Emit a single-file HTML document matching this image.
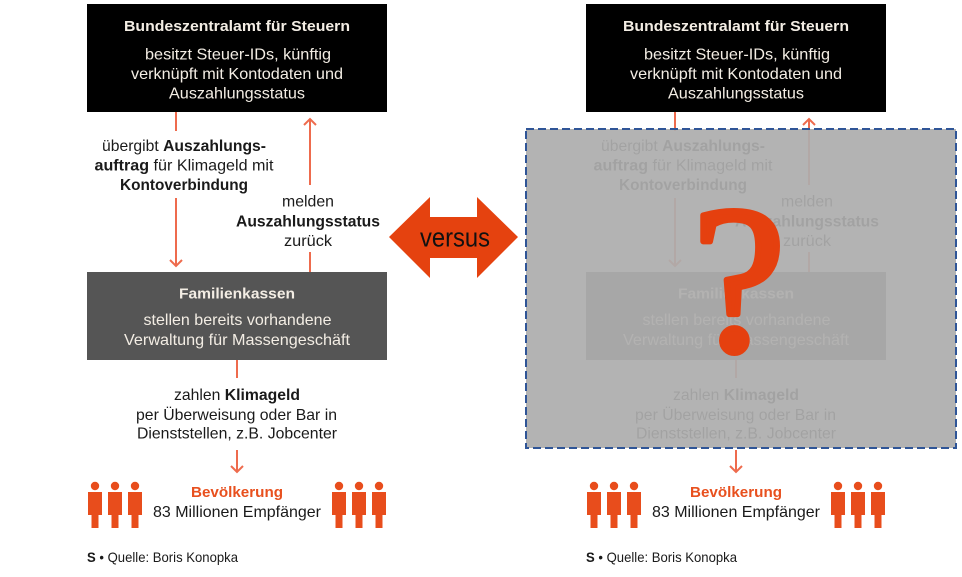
<!DOCTYPE html>
<html><head><meta charset="utf-8"><style>
html,body{margin:0;padding:0;background:#fff;}
svg{display:block;}
text{font-family:"Liberation Sans",sans-serif;}
.w{fill:#f3ede4;font-size:16px;}
.wb{fill:#f3ede4;font-size:15px;font-weight:bold;}
.t{fill:#1a1a1a;font-size:16px;}
.b{font-weight:bold;}
.ln{stroke:#ee6b4d;stroke-width:2;fill:none;}
.pp{fill:#e84d1c;}
</style></head><body>
<svg width="962" height="577" viewBox="0 0 962 577" xmlns="http://www.w3.org/2000/svg">
<rect width="962" height="577" fill="#fff"/>

<!-- LEFT -->
<g>
<rect x="87" y="4" width="300" height="108" fill="#000"/>
<text class="wb" x="237" y="31" text-anchor="middle" textLength="226" lengthAdjust="spacingAndGlyphs">Bundeszentralamt für Steuern</text>
<text class="w" x="238" y="59.5" text-anchor="middle" textLength="186" lengthAdjust="spacingAndGlyphs">besitzt Steuer-IDs, künftig</text>
<text class="w" x="237" y="79" text-anchor="middle" textLength="212" lengthAdjust="spacingAndGlyphs">verknüpft mit Kontodaten und</text>
<text class="w" x="237" y="98.5" text-anchor="middle" textLength="136" lengthAdjust="spacingAndGlyphs">Auszahlungsstatus</text>

<line class="ln" x1="176" y1="112" x2="176" y2="131"/>
<line class="ln" x1="176" y1="198" x2="176" y2="266"/>
<polyline class="ln" points="170,260 176,266 182,260"/>
<line class="ln" x1="310" y1="119" x2="310" y2="185"/>
<polyline class="ln" points="304,125 310,119 316,125"/>
<line class="ln" x1="310" y1="252" x2="310" y2="272"/>

<text class="t" x="184" y="151" text-anchor="middle" textLength="164" lengthAdjust="spacingAndGlyphs">übergibt <tspan class="b">Auszahlungs-</tspan></text>
<text class="t" x="184" y="170.5" text-anchor="middle" textLength="179" lengthAdjust="spacingAndGlyphs"><tspan class="b">auftrag</tspan> für Klimageld mit</text>
<text class="t b" x="184" y="190" text-anchor="middle" textLength="128" lengthAdjust="spacingAndGlyphs">Kontoverbindung</text>
<text class="t" x="308" y="206.5" text-anchor="middle" textLength="52" lengthAdjust="spacingAndGlyphs">melden</text>
<text class="t b" x="308" y="226.5" text-anchor="middle" textLength="144" lengthAdjust="spacingAndGlyphs">Auszahlungsstatus</text>
<text class="t" x="308" y="246" text-anchor="middle" textLength="48" lengthAdjust="spacingAndGlyphs">zurück</text>

<rect x="87" y="272" width="300" height="88" fill="#555"/>
<text class="wb" x="237" y="298.5" text-anchor="middle" textLength="116" lengthAdjust="spacingAndGlyphs">Familienkassen</text>
<text class="w" x="237.5" y="325" text-anchor="middle" textLength="188" lengthAdjust="spacingAndGlyphs">stellen bereits vorhandene</text>
<text class="w" x="237" y="345" text-anchor="middle" textLength="226" lengthAdjust="spacingAndGlyphs">Verwaltung für Massengeschäft</text>

<line class="ln" x1="237" y1="360" x2="237" y2="378"/>
<text class="t" x="237" y="400" text-anchor="middle" textLength="126" lengthAdjust="spacingAndGlyphs">zahlen <tspan class="b">Klimageld</tspan></text>
<text class="t" x="236.5" y="420" text-anchor="middle" textLength="201" lengthAdjust="spacingAndGlyphs">per Überweisung oder Bar in</text>
<text class="t" x="237" y="438.5" text-anchor="middle" textLength="200" lengthAdjust="spacingAndGlyphs">Dienststellen, z.B. Jobcenter</text>
<line class="ln" x1="237" y1="450" x2="237" y2="472"/>
<polyline class="ln" points="231,466 237,472 243,466"/>

<text x="237" y="497" text-anchor="middle" textLength="92" lengthAdjust="spacingAndGlyphs" style="fill:#e8501e;font-size:15px;font-weight:bold;">Bevölkerung</text>
<text class="t" x="237" y="517" text-anchor="middle" textLength="168" lengthAdjust="spacingAndGlyphs">83 Millionen Empfänger</text>

<g class="pp">
<circle cx="95" cy="486" r="4.2"/><rect x="88" y="492" width="14" height="23"/><rect x="91.5" y="514" width="7" height="14"/>
<circle cx="115" cy="486" r="4.2"/><rect x="108" y="492" width="14" height="23"/><rect x="111.5" y="514" width="7" height="14"/>
<circle cx="135" cy="486" r="4.2"/><rect x="128" y="492" width="14" height="23"/><rect x="131.5" y="514" width="7" height="14"/>
<circle cx="339" cy="486" r="4.2"/><rect x="332" y="492" width="14" height="23"/><rect x="335.5" y="514" width="7" height="14"/>
<circle cx="359" cy="486" r="4.2"/><rect x="352" y="492" width="14" height="23"/><rect x="355.5" y="514" width="7" height="14"/>
<circle cx="379" cy="486" r="4.2"/><rect x="372" y="492" width="14" height="23"/><rect x="375.5" y="514" width="7" height="14"/>
</g>
<text x="87" y="562" textLength="151" lengthAdjust="spacingAndGlyphs" style="fill:#1a1a1a;font-size:14px;"><tspan style="font-weight:bold;">S</tspan> • Quelle: Boris Konopka</text>
</g>

<!-- RIGHT -->
<g transform="translate(499,0)">
<rect x="87" y="4" width="300" height="108" fill="#000"/>
<text class="wb" x="237" y="31" text-anchor="middle" textLength="226" lengthAdjust="spacingAndGlyphs">Bundeszentralamt für Steuern</text>
<text class="w" x="238" y="59.5" text-anchor="middle" textLength="186" lengthAdjust="spacingAndGlyphs">besitzt Steuer-IDs, künftig</text>
<text class="w" x="237" y="79" text-anchor="middle" textLength="212" lengthAdjust="spacingAndGlyphs">verknüpft mit Kontodaten und</text>
<text class="w" x="237" y="98.5" text-anchor="middle" textLength="136" lengthAdjust="spacingAndGlyphs">Auszahlungsstatus</text>

<line class="ln" x1="176" y1="112" x2="176" y2="131"/>
<line class="ln" x1="176" y1="198" x2="176" y2="266"/>
<polyline class="ln" points="170,260 176,266 182,260"/>
<line class="ln" x1="310" y1="119" x2="310" y2="185"/>
<polyline class="ln" points="304,125 310,119 316,125"/>
<line class="ln" x1="310" y1="252" x2="310" y2="272"/>

<text class="t" x="184" y="151" text-anchor="middle" textLength="164" lengthAdjust="spacingAndGlyphs">übergibt <tspan class="b">Auszahlungs-</tspan></text>
<text class="t" x="184" y="170.5" text-anchor="middle" textLength="179" lengthAdjust="spacingAndGlyphs"><tspan class="b">auftrag</tspan> für Klimageld mit</text>
<text class="t b" x="184" y="190" text-anchor="middle" textLength="128" lengthAdjust="spacingAndGlyphs">Kontoverbindung</text>
<text class="t" x="308" y="206.5" text-anchor="middle" textLength="52" lengthAdjust="spacingAndGlyphs">melden</text>
<text class="t b" x="308" y="226.5" text-anchor="middle" textLength="144" lengthAdjust="spacingAndGlyphs">Auszahlungsstatus</text>
<text class="t" x="308" y="246" text-anchor="middle" textLength="48" lengthAdjust="spacingAndGlyphs">zurück</text>

<rect x="87" y="272" width="300" height="88" fill="#555"/>
<text class="wb" x="237" y="298.5" text-anchor="middle" textLength="116" lengthAdjust="spacingAndGlyphs">Familienkassen</text>
<text class="w" x="237.5" y="325" text-anchor="middle" textLength="188" lengthAdjust="spacingAndGlyphs">stellen bereits vorhandene</text>
<text class="w" x="237" y="345" text-anchor="middle" textLength="226" lengthAdjust="spacingAndGlyphs">Verwaltung für Massengeschäft</text>

<line class="ln" x1="237" y1="360" x2="237" y2="378"/>
<text class="t" x="237" y="400" text-anchor="middle" textLength="126" lengthAdjust="spacingAndGlyphs">zahlen <tspan class="b">Klimageld</tspan></text>
<text class="t" x="236.5" y="420" text-anchor="middle" textLength="201" lengthAdjust="spacingAndGlyphs">per Überweisung oder Bar in</text>
<text class="t" x="237" y="438.5" text-anchor="middle" textLength="200" lengthAdjust="spacingAndGlyphs">Dienststellen, z.B. Jobcenter</text>
<line class="ln" x1="237" y1="450" x2="237" y2="472"/>
<polyline class="ln" points="231,466 237,472 243,466"/>

<text x="237" y="497" text-anchor="middle" textLength="92" lengthAdjust="spacingAndGlyphs" style="fill:#e8501e;font-size:15px;font-weight:bold;">Bevölkerung</text>
<text class="t" x="237" y="517" text-anchor="middle" textLength="168" lengthAdjust="spacingAndGlyphs">83 Millionen Empfänger</text>

<g class="pp">
<circle cx="95" cy="486" r="4.2"/><rect x="88" y="492" width="14" height="23"/><rect x="91.5" y="514" width="7" height="14"/>
<circle cx="115" cy="486" r="4.2"/><rect x="108" y="492" width="14" height="23"/><rect x="111.5" y="514" width="7" height="14"/>
<circle cx="135" cy="486" r="4.2"/><rect x="128" y="492" width="14" height="23"/><rect x="131.5" y="514" width="7" height="14"/>
<circle cx="339" cy="486" r="4.2"/><rect x="332" y="492" width="14" height="23"/><rect x="335.5" y="514" width="7" height="14"/>
<circle cx="359" cy="486" r="4.2"/><rect x="352" y="492" width="14" height="23"/><rect x="355.5" y="514" width="7" height="14"/>
<circle cx="379" cy="486" r="4.2"/><rect x="372" y="492" width="14" height="23"/><rect x="375.5" y="514" width="7" height="14"/>
</g>
<text x="87" y="562" textLength="151" lengthAdjust="spacingAndGlyphs" style="fill:#1a1a1a;font-size:14px;"><tspan style="font-weight:bold;">S</tspan> • Quelle: Boris Konopka</text>
</g>

<!-- overlay -->
<rect x="526" y="129" width="430" height="319" fill="rgb(173,173,173)" fill-opacity="0.93"/>
<rect x="526" y="129" width="430" height="319" fill="none" stroke="#2f5597" stroke-width="2" stroke-dasharray="8,4"/>

<!-- question mark -->
<text x="739" y="350" text-anchor="middle" style="font-family:'Liberation Serif',serif;font-size:210px;fill:#e5400f;stroke:#e5400f;stroke-width:6;stroke-linejoin:round;">?</text>

<!-- versus arrow -->
<polygon points="389,237 430,197 430,217 477,217 477,197 518,237 477,278 477,258 430,258 430,278" fill="#e5420f"/>
<text x="455" y="246.5" text-anchor="middle" textLength="70" lengthAdjust="spacingAndGlyphs" style="font-family:'Liberation Sans',sans-serif;font-size:27px;fill:#111;">versus</text>
</svg>
</body></html>
